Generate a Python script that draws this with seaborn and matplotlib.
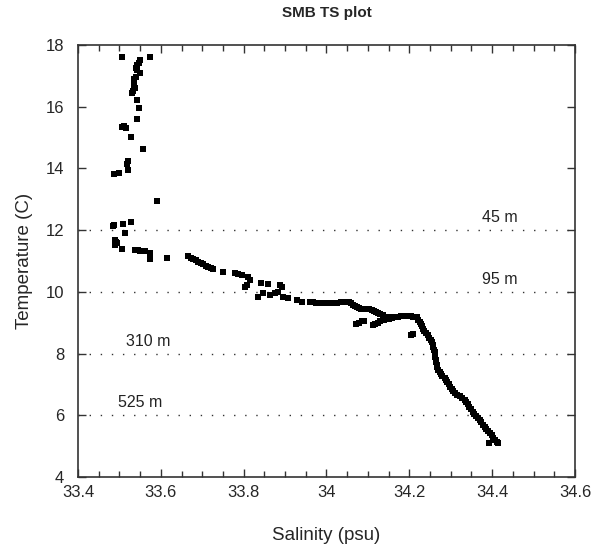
import matplotlib
matplotlib.use("Agg")
import matplotlib.pyplot as plt
import seaborn as sns
import pandas as pd
from matplotlib.ticker import MultipleLocator

# --- data ---
salinity = [
    33.507, 33.574, 33.550, 33.547, 33.543, 33.540, 33.542, 33.550, 33.540, 33.536,
    33.535, 33.534, 33.536, 33.538, 33.532, 33.531, 33.543, 33.547, 33.543, 33.507,
    33.512, 33.515, 33.529, 33.558, 33.521, 33.518, 33.520, 33.500, 33.487, 33.591,
    33.485, 33.487, 33.508, 33.527, 33.513, 33.489, 33.489, 33.493, 33.491, 33.507,
    33.538, 33.544, 33.550, 33.556, 33.562, 33.574, 33.574,
    33.614, 33.665, 33.672, 33.678, 33.684, 33.690, 33.697, 33.703, 33.709, 33.715,
    33.720, 33.725, 33.751, 33.779, 33.787, 33.795, 33.811, 33.815, 33.807, 33.803,
    33.843, 33.859, 33.847, 33.835, 33.864, 33.876, 33.888, 33.892, 33.884, 33.896,
    33.908, 33.928, 33.940, 33.960, 33.968, 33.975, 33.980, 33.988, 33.995, 34.002,
    34.010, 34.018, 34.026, 34.034, 34.042, 34.049,
    34.055, 34.060, 34.064, 34.068, 34.073, 34.078, 34.084, 34.090, 34.097, 34.103,
    34.109, 34.115, 34.120, 34.125, 34.130, 34.136, 34.142, 34.150, 34.157,
    34.072, 34.078, 34.085, 34.090, 34.112, 34.118, 34.125, 34.130, 34.138, 34.145,
    34.152, 34.158, 34.203, 34.209,
    34.165, 34.172, 34.180, 34.187, 34.195, 34.203, 34.210, 34.215,
    34.218, 34.222, 34.225, 34.227, 34.230, 34.233, 34.236, 34.240, 34.244, 34.248,
    34.252, 34.254, 34.256, 34.258, 34.260, 34.261, 34.262, 34.263, 34.264, 34.265,
    34.266, 34.268, 34.270, 34.273, 34.276, 34.280, 34.285, 34.289, 34.292, 34.295,
    34.298, 34.302, 34.306, 34.311, 34.316, 34.322, 34.328, 34.334, 34.338, 34.341,
    34.345, 34.349, 34.353, 34.357, 34.361, 34.366, 34.370, 34.374, 34.378, 34.382,
    34.386, 34.390, 34.395, 34.399, 34.403, 34.407, 34.411, 34.415, 34.393,
]
temperature = [
    17.62, 17.62, 17.50, 17.43, 17.35, 17.27, 17.19, 17.08, 16.97, 16.90,
    16.84, 16.76, 16.68, 16.60, 16.52, 16.45, 16.22, 15.95, 15.59, 15.33,
    15.36, 15.30, 15.01, 14.62, 14.24, 14.13, 13.94, 13.84, 13.81, 12.95,
    12.13, 12.18, 12.19, 12.27, 11.90, 11.68, 11.52, 11.59, 11.62, 11.38,
    11.36, 11.35, 11.33, 11.33, 11.32, 11.25, 11.06,
    11.11, 11.16, 11.10, 11.06, 11.02, 10.98, 10.93, 10.89, 10.85, 10.82,
    10.78, 10.74, 10.65, 10.60, 10.57, 10.55, 10.49, 10.38, 10.22, 10.17,
    10.28, 10.25, 9.95, 9.84, 9.90, 9.95, 10.22, 10.17, 10.01, 9.84,
    9.79, 9.74, 9.66, 9.68, 9.66, 9.64, 9.63, 9.63, 9.63, 9.63,
    9.63, 9.64, 9.65, 9.67, 9.68, 9.68,
    9.67, 9.64, 9.58, 9.53, 9.50, 9.47, 9.45, 9.44, 9.44, 9.43,
    9.42, 9.39, 9.36, 9.33, 9.29, 9.24, 9.20, 9.18, 9.16,
    8.96, 8.99, 9.04, 9.07, 8.92, 8.95, 9.00, 9.04, 9.08, 9.11,
    9.13, 9.14, 8.60, 8.64,
    9.17, 9.20, 9.22, 9.23, 9.22, 9.21, 9.20, 9.19,
    9.18, 9.10, 9.02, 8.95, 8.88, 8.80, 8.73, 8.67, 8.60, 8.52,
    8.44, 8.36, 8.28, 8.20, 8.12, 8.04, 7.96, 7.88, 7.80, 7.72,
    7.64, 7.56, 7.48, 7.41, 7.34, 7.28, 7.22, 7.15, 7.07, 7.00,
    6.93, 6.86, 6.79, 6.72, 6.66, 6.61, 6.56, 6.51, 6.44, 6.36,
    6.28, 6.20, 6.12, 6.05, 5.98, 5.91, 5.84, 5.77, 5.70, 5.63,
    5.56, 5.49, 5.42, 5.35, 5.28, 5.21, 5.15, 5.10, 5.10,
]
depth_temps = [12, 10, 8, 6]
depth_labels = ["45 m", "95 m", "310 m", "525 m"]
depth_label_x = [34.419, 34.419, 33.569, 33.550]
x_ticks = [33.4, 33.6, 33.8, 34.0, 34.2, 34.4, 34.6]
x_tick_labels = ["33.4", "33.6", "33.8", "34", "34.2", "34.4", "34.6"]

df = pd.DataFrame({"Salinity": salinity, "Temperature": temperature})

sns.set_style("ticks")
plt.rcParams["font.family"] = ["Liberation Sans", "DejaVu Sans"]

fig = plt.figure(figsize=(6.01, 5.55), dpi=100)
ax = fig.add_axes([0.1298, 0.1405, 0.8269, 0.7784])

sns.scatterplot(data=df, x="Salinity", y="Temperature", marker="s", s=13,
                color="black", linewidth=0, ax=ax, zorder=3)

for t, lab, lx in zip(depth_temps, depth_labels, depth_label_x):
    ax.axhline(t, linestyle=(0, (1, 7)), linewidth=1.0, color="#333333", zorder=2)
    ax.text(lx, t + 0.40, lab, ha="center", va="center", fontsize=11.5, color="#222222")

ax.set_xlim(33.4, 34.6)
ax.set_ylim(4, 18)
ax.xaxis.set_minor_locator(MultipleLocator(0.05))
ax.yaxis.set_major_locator(MultipleLocator(2))
ax.set_xticks(x_ticks)
ax.set_xticklabels(x_tick_labels)
ax.tick_params(axis="both", which="both", direction="in", top=True, right=True,
               labelsize=12, color="#333333")
ax.tick_params(axis="both", which="major", length=6, width=1)
ax.tick_params(axis="both", which="minor", length=4, width=1)
ax.tick_params(axis="x", which="major", pad=6)
ax.tick_params(axis="y", which="major", pad=10)
for sp in ax.spines.values():
    sp.set_color("#333333")
    sp.set_linewidth(1.2)

ax.set_xlabel("Salinity (psu)", fontsize=13.5, labelpad=19)
ax.set_ylabel("Temperature (C)", fontsize=13.5, labelpad=9)
ax.set_title("SMB TS plot", fontsize=11, fontweight="bold", pad=20)

fig.savefig("out.png", dpi=100)
